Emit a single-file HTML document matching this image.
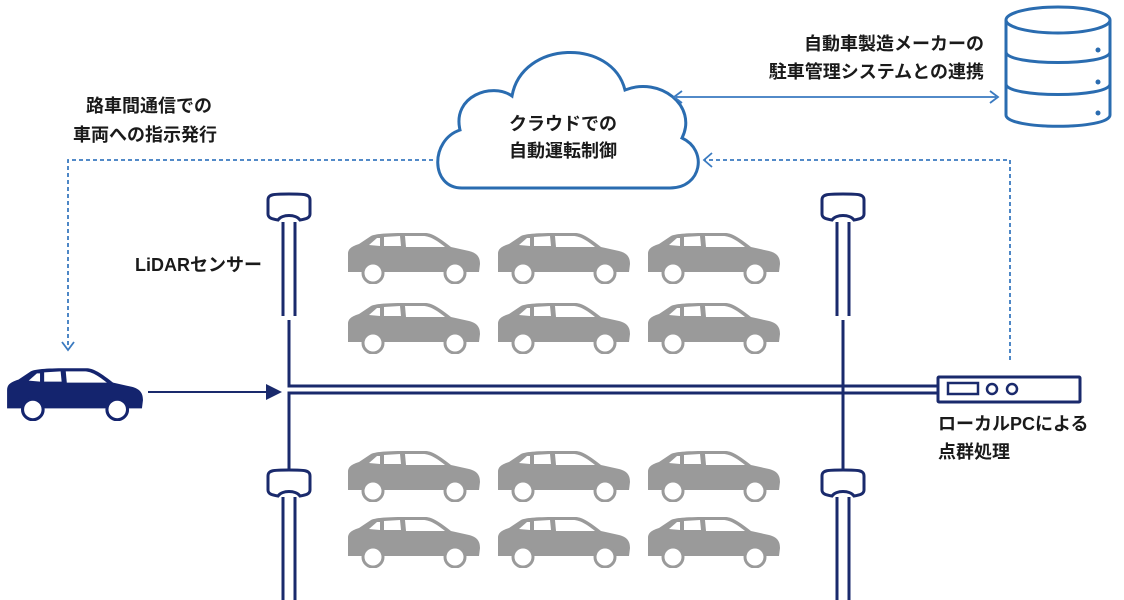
<!DOCTYPE html>
<html><head><meta charset="utf-8"><style>
html,body{margin:0;padding:0;background:#fff;}
svg{display:block}
text{font-family:"Liberation Sans","Noto Sans CJK JP",sans-serif;font-weight:bold;fill:#1a1a1a;font-size:18px}
</style></head><body>
<svg width="1124" height="600" viewBox="0 0 1124 600" xmlns="http://www.w3.org/2000/svg">
<defs>
<symbol id="car" viewBox="0 0 136 52">
<path d="M3,38 L3,22 C3,16 8,14 14,12 L26,4 C30,2 40,1 60,1 L80,1 C86,1 92,4 106,15 L124,19 C132,21 135,25 135,32 L134,40 L3,40 Z"/>
<path d="M24,13 L32,6 L35,6 L35,14 Z" fill="#fff"/>
<path d="M39,5 L55,4 L56,14 L39,14 Z" fill="#fff"/>
<path d="M60,4 L78,4 C84,4 90,7 100,15 L61,15 Z" fill="#fff"/>
<circle cx="28" cy="41" r="10" fill="#fff"/>
<circle cx="28" cy="41" r="10" fill="none" stroke="currentColor" stroke-width="3"/>
<circle cx="110" cy="41" r="10" fill="#fff"/>
<circle cx="110" cy="41" r="10" fill="none" stroke="currentColor" stroke-width="3"/>
</symbol>
<symbol id="cap" viewBox="0 0 50 34">
<path d="M4,8 C4,2 10,2 25,2 C40,2 46,2 46,8 L46,22 C46,26 42,27 36,28 C32,22 18,22 14,28 C8,27 4,26 4,22 Z" fill="#fff" stroke="#1a2a6c" stroke-width="3"/>
</symbol>
<marker id="ah" markerWidth="8" markerHeight="8" refX="7" refY="4" orient="auto"><path d="M0,0 L8,4 L0,8 Z" fill="#1a2a6c"/></marker>
</defs>

<g fill="#9a9a9a" color="#9a9a9a">
<use href="#car" x="345" y="232" width="136" height="52"/>
<use href="#car" x="495" y="232" width="136" height="52"/>
<use href="#car" x="645" y="232" width="136" height="52"/>
<use href="#car" x="345" y="302" width="136" height="52"/>
<use href="#car" x="495" y="302" width="136" height="52"/>
<use href="#car" x="645" y="302" width="136" height="52"/>
<use href="#car" x="345" y="450" width="136" height="52"/>
<use href="#car" x="495" y="450" width="136" height="52"/>
<use href="#car" x="645" y="450" width="136" height="52"/>
<use href="#car" x="345" y="516" width="136" height="52"/>
<use href="#car" x="495" y="516" width="136" height="52"/>
<use href="#car" x="645" y="516" width="136" height="52"/>
</g>
<g fill="#14246e" color="#14246e"><use href="#car" x="4" y="367" width="140" height="54"/></g>

<g stroke="#1a2a6c" stroke-width="3" fill="none">
<path d="M283,222 L283,316 M295,222 L295,316"/>
<path d="M289,320 L289,386 L937,386"/>
<path d="M289,470 L289,393 L937,393"/>
<path d="M283,497 L283,600 M295,497 L295,600"/>
<path d="M837,222 L837,316 M849,222 L849,316"/>
<path d="M843,320 L843,470"/>
<path d="M837,497 L837,600 M849,497 L849,600" />
<rect x="938" y="377" width="142" height="25" rx="1"/>
<rect x="948" y="383" width="30" height="11" stroke-width="2.5"/>
<circle cx="992" cy="389" r="5" stroke-width="2.5"/>
<circle cx="1012" cy="389" r="5" stroke-width="2.5"/>
</g>
<use href="#cap" x="264" y="192" width="50" height="34"/>
<use href="#cap" x="818" y="192" width="50" height="34"/>
<use href="#cap" x="264" y="468" width="50" height="34"/>
<use href="#cap" x="818" y="468" width="50" height="34"/>
<path d="M148,392 L280,392" stroke="#1a2a6c" stroke-width="2" marker-end="url(#ah)"/>

<path d="M462,188 C430,188 430,140 460,130 C452,96 492,82 512,96 C522,40 612,38 625,90 C660,76 698,106 682,138 C708,150 702,188 670,188 Z" fill="#fff" stroke="#2a6cb0" stroke-width="3"/>
<g fill="#fff" stroke="#2a6cb0" stroke-width="3">
<path d="M1006,20 L1006,115 C1006,130 1110,130 1110,115 L1110,20"/>
<ellipse cx="1058" cy="20" rx="52" ry="13"/>
<path d="M1006,52 C1006,66 1110,66 1110,52 M1006,84 C1006,98 1110,98 1110,84" fill="none"/>
</g>
<g fill="#2a6cb0"><circle cx="1098" cy="50" r="2.5"/><circle cx="1098" cy="82" r="2.5"/><circle cx="1098" cy="113" r="2.5"/></g>

<g stroke="#3a7ac0" stroke-width="1.8" fill="none">
<path d="M676,97 L996,97"/>
<path d="M682,91 L674,97 L682,103 M990,91 L998,97 L990,103"/>
<path d="M433,160 L68,160 L68,348" stroke-dasharray="4,3"/>
<path d="M62,342 L68,350 L74,342"/>
<path d="M1010,360 L1010,160 L705,160" stroke-dasharray="4,3"/>
<path d="M712,153 L704,160 L712,167"/>
</g>

<text x="563" y="130" text-anchor="middle">クラウドでの</text>
<text x="563" y="157" text-anchor="middle">自動運転制御</text>
<text x="984" y="50" text-anchor="end">自動車製造メーカーの</text>
<text x="984" y="78" text-anchor="end">駐車管理システムとの連携</text>
<text x="86" y="112">路車間通信での</text>
<text x="73" y="141">車両への指示発行</text>
<text x="135" y="271">LiDARセンサー</text>
<text x="938" y="430">ローカルPCによる</text>
<text x="938" y="458">点群処理</text>
</svg>
</body></html>
